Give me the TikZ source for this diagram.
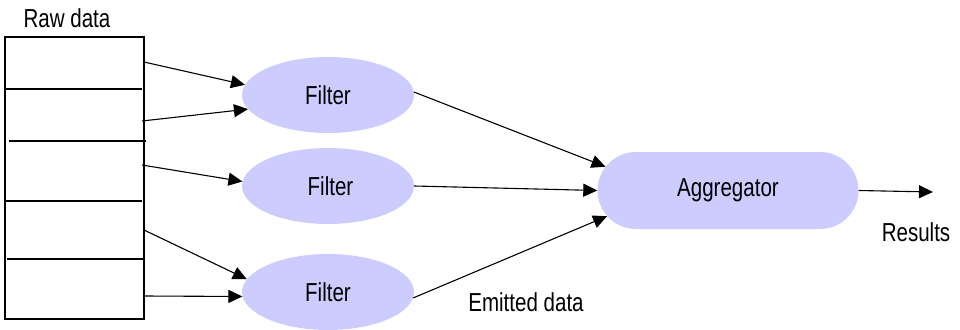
\documentclass[tikz,border=0pt]{standalone}
\usepackage{fontspec}
\setmainfont{Liberation Sans}[FakeStretch=0.79]
\usetikzlibrary{arrows.meta,shapes.geometric,shapes.misc}
\definecolor{lav}{HTML}{CCCCFF}
\tikzset{
  every node/.style={font=\fontsize{26}{30}\selectfont},
  filt/.style={ellipse,fill=lav,draw=none,minimum width=172pt,minimum height=76pt,inner sep=0pt},
  aggbox/.style={rounded rectangle,fill=lav,draw=none,minimum width=261pt,minimum height=77pt,inner sep=0pt},
  conn/.style={line width=1.1pt,-{Triangle[length=14pt,width=13pt]}},
  divline/.style={line width=1.1pt},
  lbl/.style={inner sep=0pt}
}
\begin{document}
\begin{tikzpicture}[x=1pt,y=-1pt]
\useasboundingbox (0,0) rectangle (960,329);
\clip (0,0) rectangle (960,329);
% raw data block
\node[draw,line width=1.2pt,minimum width=139pt,minimum height=282pt,inner sep=0pt] (raw) at (74.5,178) {};
\draw[divline] (5,89) -- (142,89);
\draw[divline] (9,141) -- (146,141);
\draw[divline] (5,201) -- (142,201);
\draw[divline] (7,259) -- (145,259);
\node[lbl] (rawlbl) at (67,18) {Raw data};
% filters
\node[filt] (f1) at (328,95) {Filter};
\node[filt] (f2) at (328,186) {\hspace*{5pt}Filter};
\node[filt] (f3) at (328,292) {Filter};
% aggregator
\node[aggbox] (agg) at (728,190.5) {Aggregator};
% start points
\coordinate (s1) at (144,62);
\coordinate (s2) at (142,121);
\coordinate (s3) at (142,165);
\coordinate (s4) at (144,230);
\coordinate (s5) at (144,296);
\coordinate (res) at (933,192);
\draw[conn] (s1) -- (f1.173);
\draw[conn] (s2) -- (f1.190);
\draw[conn] (s3) -- (f2.177);
\draw[conn] (s4) -- (f3.171);
\draw[conn] (s5) -- (f3.183);
\draw[conn] (f1.2) -- (agg.169);
\draw[conn] (f2.east) -- (agg.west);
\draw[conn] (f3.-4) -- (agg.192);
\draw[conn] (agg.east) -- (res);
\node[lbl] (reslbl) at (916,232) {Results};
\node[lbl] (emit) at (526,302) {Emitted data};
\end{tikzpicture}
\end{document}
